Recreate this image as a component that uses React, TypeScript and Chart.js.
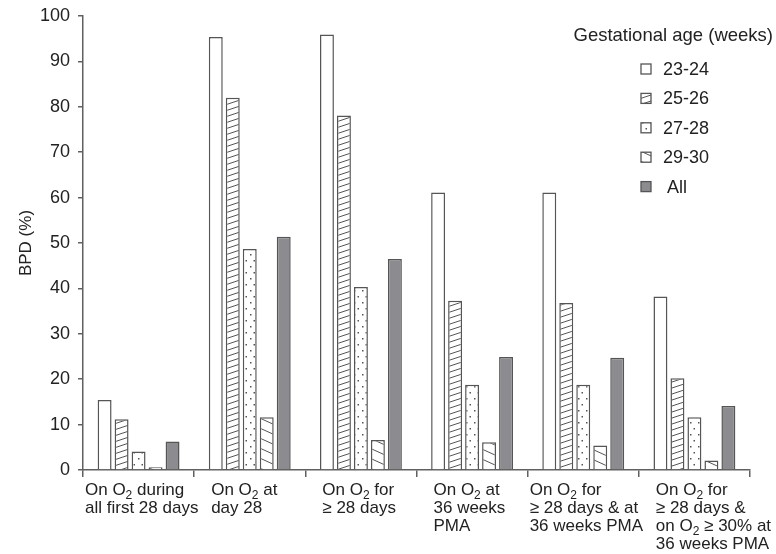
import { useEffect, useRef } from "react";
import { Chart, registerables } from "chart.js";
Chart.register(...registerables);

// ---- data ----
const categories: string[][] = [
  ["On O₂ during", "all first 28 days"],
  ["On O₂ at", "day 28"],
  ["On O₂ for", "≥ 28 days"],
  ["On O₂ at", "36 weeks", "PMA"],
  ["On O₂ for", "≥ 28 days & at", "36 weeks PMA"],
  ["On O₂ for", "≥ 28 days &", "on O₂ ≥ 30% at", "36 weeks PMA"],
];
const seriesLabels = ["23-24", "25-26", "27-28", "29-30", "All"];
const ga2324 = [15.4, 95.4, 95.9, 61.1, 61.1, 38.2];
const ga2526 = [11.2, 82.0, 78.1, 37.3, 36.8, 20.2];
const ga2728 = [4.1, 48.7, 40.3, 18.8, 18.8, 11.6];
const ga2930 = [0.6, 11.6, 6.6, 6.1, 5.4, 2.1];
const gaAll = [6.3, 51.4, 46.5, 24.9, 24.7, 14.1];
const yMin = 0;
const yMax = 100;
const yStep = 10;
const legendTitle = "Gestational age (weeks)";
const yTitle = "BPD (%)";

// ---- styles ----
const FONT = "'Liberation Sans', Arial, Helvetica, sans-serif";
const TEXT = "#222222";
const AXIS = "#606060";
const EDGE = "#555555";
const GRAY = "#8c8c90";
const LBL = 17;

function makePattern(kind: string): CanvasPattern | string {
  const c = document.createElement("canvas");
  const g = c.getContext("2d")!;
  if (kind === "white") return "#ffffff";
  if (kind === "gray") return GRAY;
  if (kind === "fwd") {
    const W = 18, H = 6;
    c.width = W; c.height = H;
    g.fillStyle = "#fff"; g.fillRect(0, 0, W, H);
    g.strokeStyle = "#555"; g.lineWidth = 1;
    for (const d of [-H, 0, H]) {
      g.beginPath(); g.moveTo(0, H + d); g.lineTo(W, d); g.stroke();
    }
  } else if (kind === "back") {
    const W = 22, H = 10;
    c.width = W; c.height = H;
    g.fillStyle = "#fff"; g.fillRect(0, 0, W, H);
    g.strokeStyle = "#555"; g.lineWidth = 1;
    for (const d of [-H, 0, H]) {
      g.beginPath(); g.moveTo(0, d); g.lineTo(W, H + d); g.stroke();
    }
  } else if (kind === "dots") {
    const W = 8, H = 12;
    c.width = W; c.height = H;
    g.fillStyle = "#fff"; g.fillRect(0, 0, W, H);
    g.fillStyle = "#555";
    g.fillRect(2, 2, 1.5, 1.5);
    g.fillRect(5.5, 8, 1.5, 1.5);
  }
  return g.createPattern(c, "repeat")!;
}

function richWidth(ctx: CanvasRenderingContext2D, s: string): number {
  const parts = s.split("₂");
  let w = 0;
  ctx.font = `${LBL}px ${FONT}`;
  parts.forEach((p) => (w += ctx.measureText(p).width));
  ctx.font = `12px ${FONT}`;
  w += (parts.length - 1) * ctx.measureText("2").width;
  return w;
}

function drawRich(ctx: CanvasRenderingContext2D, s: string, x: number, y: number) {
  const parts = s.split("₂");
  let cx = x;
  parts.forEach((p, i) => {
    ctx.font = `${LBL}px ${FONT}`;
    ctx.fillText(p, cx, y);
    cx += ctx.measureText(p).width;
    if (i < parts.length - 1) {
      ctx.font = `12px ${FONT}`;
      ctx.fillText("2", cx, y + 4);
      cx += ctx.measureText("2").width;
    }
  });
}

const decor = {
  id: "decor",
  afterDraw(chart: any) {
    const ctx: CanvasRenderingContext2D = chart.ctx;
    const xs = chart.scales.x;
    const area = chart.chartArea;
    const n = categories.length;
    const catW = (area.right - area.left) / n;
    ctx.save();
    ctx.fillStyle = TEXT;
    ctx.textAlign = "left";
    ctx.textBaseline = "alphabetic";
    // category labels: left-aligned blocks, indented, centred when too wide
    categories.forEach((lines, i) => {
      const cx = xs.getPixelForValue(i);
      const catLeft = cx - catW / 2;
      const catRight = cx + catW / 2;
      const maxW = Math.max(...lines.map((l) => richWidth(ctx, l)));
      let left = catLeft + 17;
      if (i < n - 1 && left + maxW > catRight + 6) {
        left = Math.max(catLeft + 2, cx - maxW / 2);
      }
      lines.forEach((l, j) => drawRich(ctx, l, left, area.bottom + 25 + j * 18));
    });
    // y title
    ctx.save();
    ctx.translate(26, area.top + (area.bottom - area.top) * 0.5);
    ctx.rotate(-Math.PI / 2);
    ctx.textAlign = "center";
    ctx.textBaseline = "middle";
    ctx.font = `17px ${FONT}`;
    ctx.fillText(yTitle, 0, 0);
    ctx.restore();
    // legend
    ctx.font = `18.5px ${FONT}`;
    ctx.textAlign = "right";
    ctx.textBaseline = "middle";
    ctx.fillText(legendTitle, chart.width - 3, 36);
    ctx.textAlign = "left";
    ctx.font = `18px ${FONT}`;
    chart.data.datasets.forEach((ds: any, k: number) => {
      const y = 69 + k * 29.4;
      const bx = 641;
      ctx.fillStyle = ds.backgroundColor;
      ctx.fillRect(bx, y - 5, 10, 10);
      ctx.strokeStyle = EDGE;
      ctx.lineWidth = 1.3;
      ctx.strokeRect(bx, y - 5, 10, 10);
      ctx.fillStyle = TEXT;
      ctx.fillText(ds.label, k === 4 ? 667 : 663, y + 1);
    });
    ctx.restore();
  },
};

export default function App() {
  const ref = useRef<HTMLCanvasElement | null>(null);
  useEffect(() => {
    document.body.style.margin = "0";
    const fills = ["white", "fwd", "dots", "back", "gray"].map(makePattern);
    const series = [ga2324, ga2526, ga2728, ga2930, gaAll];
    const chart = new Chart(ref.current!, {
      type: "bar",
      data: {
        labels: categories.map((l) => l.join(" ")),
        datasets: series.map((d, i) => ({
          label: seriesLabels[i],
          data: d,
          backgroundColor: fills[i] as any,
          borderColor: EDGE,
          borderWidth: 1.5,
          categoryPercentage: 0.764,
          barPercentage: 0.82,
        })),
      },
      options: {
        responsive: false,
        animation: false,
        layout: { padding: { top: 16, right: 26, left: 0, bottom: 0 } },
        plugins: { legend: { display: false }, tooltip: { enabled: false } },
        scales: {
          x: {
            offset: true,
            grid: { offset: true, drawOnChartArea: false, drawTicks: true, tickLength: 7, color: AXIS, lineWidth: 1.5 },
            border: { display: true, color: AXIS, width: 1.5 },
            ticks: { display: false },
            afterFit: (s: any) => { s.height = 84; },
          },
          y: {
            min: yMin,
            max: yMax,
            ticks: { stepSize: yStep, padding: 8, color: TEXT, font: { family: FONT, size: 18 } },
            grid: { drawOnChartArea: false, tickLength: 5, color: AXIS, lineWidth: 1.5 },
            border: { display: true, color: AXIS, width: 1.5 },
            afterFit: (s: any) => {
              s.width = 83;
              s.paddingTop = 10;
              s.paddingBottom = 10;
            },
          },
        },
      },
      plugins: [decor],
    });
    return () => chart.destroy();
  }, []);
  return <canvas ref={ref} width={776} height={554} style={{ display: "block" }} />;
}
